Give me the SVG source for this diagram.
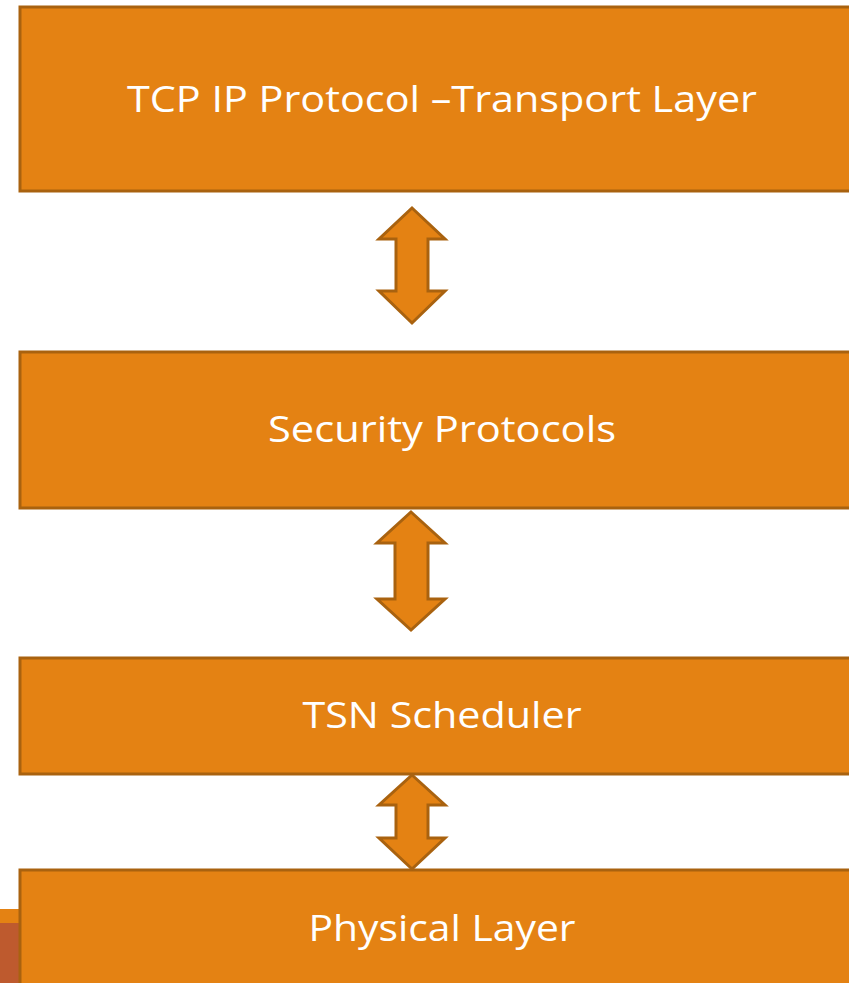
<svg xmlns="http://www.w3.org/2000/svg" width="849" height="983" viewBox="0 0 849 983">
  <style>
    .box { fill: #E48213; stroke: #A9620F; stroke-width: 3; }
    .arrow { fill: #E48213; stroke: #A9620F; stroke-width: 3; stroke-linejoin: miter; }
    .label { fill: #FFFFFF; font-family: "Open Sans", "Liberation Sans", sans-serif; font-size: 36px; text-anchor: middle; }
  </style>
  <rect width="849" height="983" fill="#FFFFFF"/>

  <!-- slide corner accent -->
  <g id="corner-accent">
    <rect x="0" y="909" width="21" height="14" fill="#E48213"/>
    <rect x="0" y="923" width="21" height="60" fill="#BE5A2E"/>
  </g>

  <g id="transport-layer">
    <rect class="box" x="20" y="7" width="846" height="184"/>
    <text class="label" x="442" y="112" textLength="630" lengthAdjust="spacingAndGlyphs">TCP IP Protocol –Transport Layer</text>
  </g>

  <g id="security-protocols">
    <rect class="box" x="20" y="352" width="846" height="156"/>
    <text class="label" x="442" y="442" textLength="348" lengthAdjust="spacingAndGlyphs">Security Protocols</text>
  </g>

  <g id="tsn-scheduler">
    <rect class="box" x="20" y="658" width="846" height="116"/>
    <text class="label" x="442" y="728" textLength="279" lengthAdjust="spacingAndGlyphs">TSN Scheduler</text>
  </g>

  <g id="physical-layer">
    <rect class="box" x="20" y="870" width="846" height="130"/>
    <text class="label" x="442" y="941" textLength="267" lengthAdjust="spacingAndGlyphs">Physical Layer</text>
  </g>

  <!-- bidirectional block arrows between layers -->
  <g id="connectors">
    <polygon class="arrow" points="412,208 445,239 428,239 428,291 445,291 412,323 379,291 396,291 396,239 379,239"/>
    <polygon class="arrow" points="411,512 445,543 428,543 428,599 445,599 411,630 377,599 395,599 395,543 377,543"/>
    <polygon class="arrow" points="412,775 445,805 428,805 428,838 445,838 412,869 379,838 396,838 396,805 379,805"/>
  </g>
</svg>
